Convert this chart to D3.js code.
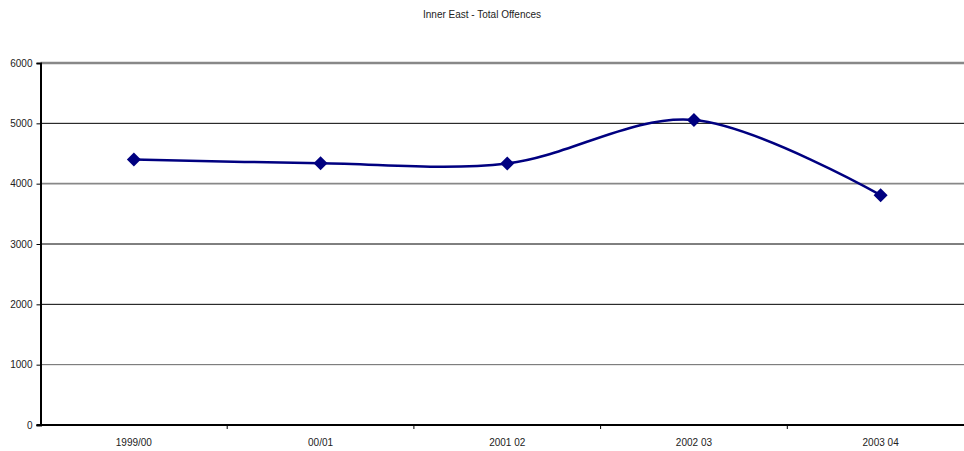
<!DOCTYPE html>
<html>
<head>
<meta charset="utf-8">
<script src="https://cdn.jsdelivr.net/npm/d3@7/dist/d3.min.js"></script>
<style>
  html, body { margin: 0; padding: 0; background: #fff; }
  svg { display: block; font-family: "Liberation Sans", Arial, sans-serif; }
</style>
</head>
<body>
<svg id="chart" width="964" height="451"></svg>
<script>
const title = "Inner East - Total Offences";
const categories = ["1999/00", "00/01", "2001 02", "2002 03", "2003 04"];
const offences = [4400, 4340, 4335, 5055, 3810];
const yTicks = [0, 1000, 2000, 3000, 4000, 5000, 6000];

const svg = d3.select("#chart");
const margin = { left: 40.5, top: 63, bottom: 26 };
const bandW = 186.7;
const plotRight = margin.left + bandW * categories.length;
const plotBottom = 451 - margin.bottom;

const x = d3.scaleBand().domain(categories).range([margin.left, plotRight]).paddingInner(0).paddingOuter(0);
const y = d3.scaleLinear().domain([0, 6000]).range([plotBottom, margin.top]);

// title
svg.append("text")
  .attr("x", 482).attr("y", 18)
  .attr("text-anchor", "middle")
  .attr("font-size", 10).attr("fill", "#222")
  .text(title);

// gridlines
const gridStyle = {
  6000: { c: "#888", w: 2.5 },
  5000: { c: "#000", w: 1 },
  4000: { c: "#888", w: 1.6 },
  3000: { c: "#000", w: 1 },
  2000: { c: "#000", w: 1 },
  1000: { c: "#666", w: 1 }
};
svg.append("g").selectAll("line")
  .data(yTicks.filter(d => d > 0))
  .join("line")
  .attr("x1", margin.left).attr("x2", 964)
  .attr("y1", d => y(d)).attr("y2", d => y(d))
  .attr("stroke", d => gridStyle[d].c)
  .attr("stroke-width", d => gridStyle[d].w);

// y axis
const yAxis = d3.axisLeft(y).tickValues(yTicks).tickSize(4).tickPadding(4).tickFormat(d3.format("d"));
const gy = svg.append("g").attr("transform", `translate(${margin.left},0)`).call(yAxis);
gy.select(".domain").attr("stroke", "#000").attr("stroke-width", 2);
gy.selectAll(".tick line").attr("stroke", "#000");
gy.selectAll(".tick text").attr("font-size", 10).attr("fill", "#222").attr("font-family", "Liberation Sans, Arial, sans-serif");

// x axis
const boundaries = categories.map((c, i) => x(c)).slice(1);
const gx = svg.append("g").attr("transform", `translate(0,${plotBottom})`);
gx.append("line")
  .attr("x1", margin.left - 4).attr("x2", 964)
  .attr("y1", 0).attr("y2", 0)
  .attr("stroke", "#000").attr("stroke-width", 2);
gx.selectAll("line.tk").data(boundaries).join("line")
  .attr("class", "tk")
  .attr("x1", d => d).attr("x2", d => d)
  .attr("y1", 0).attr("y2", 4)
  .attr("stroke", "#000").attr("stroke-width", 1);
gx.selectAll("text").data(categories).join("text")
  .attr("x", d => x(d) + x.bandwidth() / 2)
  .attr("y", 21)
  .attr("text-anchor", "middle")
  .attr("font-size", 10).attr("fill", "#222")
  .text(d => d);

// line
const pts = categories.map((c, i) => [x(c) + x.bandwidth() / 2, y(offences[i])]);
const line = d3.line().curve(d3.curveCatmullRom.alpha(0));
svg.append("path")
  .attr("d", line(pts))
  .attr("fill", "none")
  .attr("stroke", "#000080")
  .attr("stroke-width", 2.5);

// markers
svg.append("g").selectAll("path")
  .data(pts)
  .join("path")
  .attr("transform", d => `translate(${d[0]},${d[1]})`)
  .attr("d", "M0,-7L7,0L0,7L-7,0Z")
  .attr("fill", "#000080");
</script>
</body>
</html>
